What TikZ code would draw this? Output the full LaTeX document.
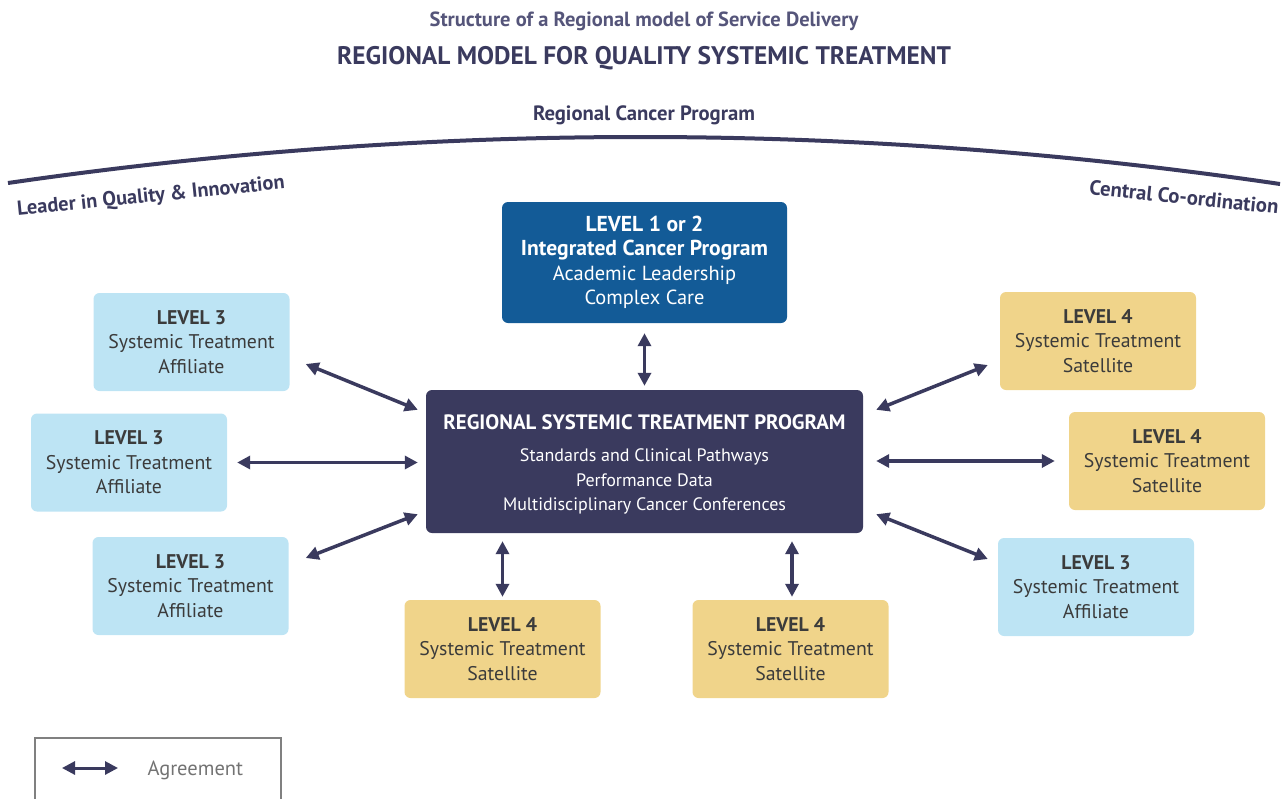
\documentclass[tikz,border=0pt]{standalone}
\usepackage{fontspec}
\setmainfont{PT Sans}
\usetikzlibrary{arrows.meta}
\usetikzlibrary{calc}

\definecolor{navy}{HTML}{3A3A5E}
\definecolor{titlegray}{HTML}{55557A}
\definecolor{levelblue}{HTML}{135B97}
\definecolor{affblue}{HTML}{BDE4F4}
\definecolor{satyellow}{HTML}{F0D48A}
\definecolor{boxtext}{HTML}{3B3B3B}

\begin{document}
\begin{tikzpicture}[x=1pt, y=-1pt,
    box/.style={rounded corners=6pt, minimum width=196pt, minimum height=98pt,
      align=center, text=boxtext, font=\fontsize{19.8}{24.5}\selectfont},
    affiliate/.style={box, fill=affblue},
    satellite/.style={box, fill=satyellow},
    agree/.style={navy, line width=3.5pt,
      {Triangle[length=13pt,width=13pt]}-{Triangle[length=13pt,width=13pt]}}]
    \useasboundingbox (0,0) rectangle (1285,798);

    % headings
    \node[text=titlegray, font=\fontsize{20.5}{24}\selectfont\bfseries] (sub) at (644,21) {Structure of a Regional model of Service Delivery};
    \node[text=navy, font=\fontsize{25.4}{30}\selectfont\bfseries] (title) at (644,58) {REGIONAL MODEL FOR QUALITY SYSTEMIC TREATMENT};
    \node[text=navy, font=\fontsize{20.7}{24}\selectfont\bfseries] (rcp) at (644,115) {Regional Cancer Program};

    % arc
    \draw[navy, line width=4pt] (8,183) .. controls (432,121.3) and (856,121.7) .. (1280,184);
    \node[text=navy, rotate=5.8, font=\fontsize{20.4}{24}\selectfont\bfseries] (lead) at (151,197) {Leader in Quality \& Innovation};
    \node[text=navy, rotate=-6, font=\fontsize{20.7}{24}\selectfont\bfseries] (coord) at (1184,197) {Central Co-ordination};

    % centre boxes
    \node[box, fill=levelblue, text=white, minimum width=285pt, minimum height=121pt, font=\fontsize{20.4}{24.5}\selectfont] (lvl) at (644.5,262.5)
      {{\fontsize{21.6}{24.5}\selectfont\textbf{LEVEL 1 or 2}}\\ {\fontsize{21.6}{24.5}\selectfont\textbf{Integrated Cancer Program}}\\ Academic Leadership\\ Complex Care};
    \node[box, fill=navy, text=white, minimum width=437pt, minimum height=143pt, font=\fontsize{18}{24.5}\selectfont] (reg) at (644.5,461.5)
      {\rule{0pt}{21pt}{\fontsize{20.8}{24}\selectfont\textbf{REGIONAL SYSTEMIC TREATMENT PROGRAM}}\\[8pt]
       Standards and Clinical Pathways\\ Performance Data\\ Multidisciplinary Cancer Conferences};

    % outer boxes
    \node[affiliate] (lt) at (191.5,342) {\textbf{LEVEL 3}\\ Systemic Treatment\\ Affiliate};
    \node[affiliate] (lm) at (129,462.5) {\textbf{LEVEL 3}\\ Systemic Treatment\\ Affiliate};
    \node[affiliate] (lb) at (190.5,586) {\textbf{LEVEL 3}\\ Systemic Treatment\\ Affiliate};
    \node[satellite] (bl) at (502.5,649) {\textbf{LEVEL 4}\\ Systemic Treatment\\ Satellite};
    \node[satellite] (br) at (790.5,649) {\textbf{LEVEL 4}\\ Systemic Treatment\\ Satellite};
    \node[satellite] (rt) at (1098,341) {\textbf{LEVEL 4}\\ Systemic Treatment\\ Satellite};
    \node[satellite] (rm) at (1167,461) {\textbf{LEVEL 4}\\ Systemic Treatment\\ Satellite};
    \node[affiliate] (rb) at (1096,587) {\textbf{LEVEL 3}\\ Systemic Treatment\\ Affiliate};

    % agreements
    \draw[agree, shorten <=10pt, shorten >=4pt] (lvl.south) -- (reg.north);
    \draw[agree] ($(lt.east)+(16,22)$) -- ($(reg.north west)+(-8,20)$);
    \draw[agree, shorten <=10pt, shorten >=8pt] (lm.east) -- (lm.east -| reg.west);
    \draw[agree] ($(lb.east)+(17,-28)$) -- ($(reg.south west)+(-8,-19)$);
    \draw[agree, shorten <=3pt, shorten >=8pt] (bl.north) -- (bl.north |- reg.south);
    \draw[agree, shorten <=3pt, shorten >=8pt] ([xshift=1.5pt]br.north) -- ([xshift=1.5pt]br.north |- reg.south);
    \draw[agree] ($(reg.north east)+(13,20)$) -- ($(rt.west)+(-12,24)$);
    \draw[agree, shorten <=13pt, shorten >=14pt] (rm.west -| reg.east) -- (rm.west);
    \draw[agree] ($(reg.south east)+(13,-19)$) -- ($(rb.west)+(-10,-28)$);

    % legend
    \draw[gray, line width=1.5pt] (35,800) -- (35,738) -- (281,738) -- (281,800);
    \coordinate (keyl) at (62,768);
    \coordinate (keyr) at (118,768);
    \draw[agree, line width=3pt] (keyl) -- (keyr);
    \node[text=gray!90!black, anchor=west, font=\fontsize{20.5}{24}\selectfont] (keytext) at (144,770) {Agreement};
\end{tikzpicture}
\end{document}
